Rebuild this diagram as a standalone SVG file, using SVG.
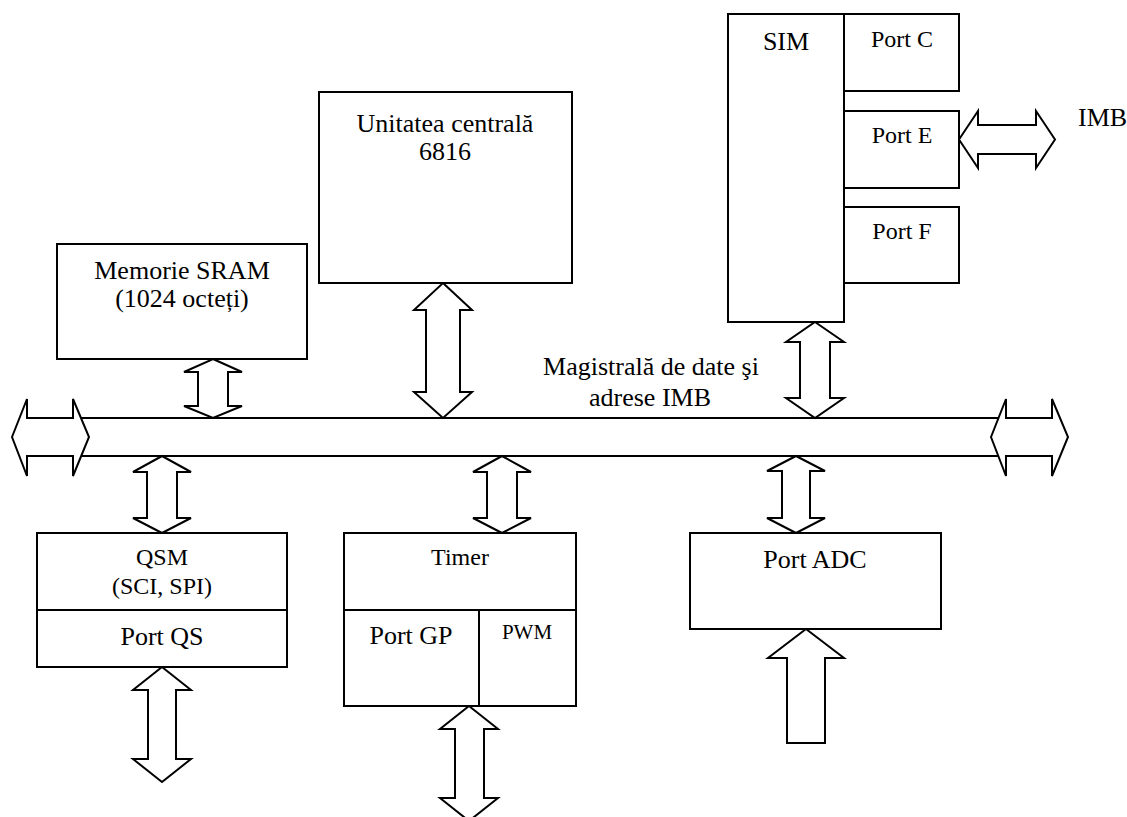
<svg xmlns="http://www.w3.org/2000/svg" width="1127" height="817" viewBox="0 0 1127 817">
<style>
.box{fill:#fff;stroke:#000;stroke-width:2}
.ln{fill:none;stroke:#000;stroke-width:2}
.ar{fill:#fff;stroke:#000;stroke-width:2;stroke-linejoin:miter}
text{fill:#000;text-anchor:middle}
.f26{font-size:26px}
.f24{font-size:24px}
.f21{font-size:21px}
</style>
<rect width="1127" height="817" fill="#fff"/>
<g id="connectors">
<line class="ln" x1="81" y1="418" x2="999" y2="418"/>
<line class="ln" x1="81" y1="456" x2="999" y2="456"/>
<polygon class="ar" points="12,437 27,399 27,418 73,418 73,399 89,437 73,476 73,456 27,456 27,476"/>
<polygon class="ar" points="991,437 1006,399 1006,418 1052,418 1052,399 1068,437 1052,476 1052,456 1006,456 1006,476"/>
<polygon class="ar" points="959,139.5 978,111 978,125 1036,125 1036,111 1055,139.5 1036,168 1036,154 978,154 978,168"/>
<polygon class="ar" points="213,359 242,372 228,372 228,406 242,406 213,418 184,406 198,406 198,372 184,372"/>
<polygon class="ar" points="443,283 472,310 460,310 460,392 472,392 443,418 414,392 426,392 426,310 414,310"/>
<polygon class="ar" points="815,322 844,342 830,342 830,398 844,398 815,418 786,398 800,398 800,342 786,342"/>
<polygon class="ar" points="162,456 191,472 177,472 177,518 191,518 162,533 133,518 147,518 147,472 133,472"/>
<polygon class="ar" points="502,456 531,472 517,472 517,518 531,518 502,533 473,518 487,518 487,472 473,472"/>
<polygon class="ar" points="796,456 825,471 810,471 810,518 825,518 796,533 767,518 782,518 782,471 767,471"/>
<polygon class="ar" points="162,667 191,690 176,690 176,759 191,759 162,782 133,759 148,759 148,690 133,690"/>
<polygon class="ar" points="469,706 498,729 484,729 484,798 498,798 469,821 440,798 455,798 455,729 440,729"/>
<polygon class="ar" points="806,629 844,658 825,658 825,743 787,743 787,658 768,658"/>
</g>
<g font-family="Liberation Serif, DejaVu Serif, serif">
<g id="sram">
<rect class="box" x="57" y="244" width="250" height="115"/>
<text class="f26" x="182" y="279">Memorie SRAM</text>
<text class="f26" x="182" y="307">(1024 octeți)</text>
</g>
<g id="cpu">
<rect class="box" x="319" y="92" width="253" height="191"/>
<text class="f26" x="445" y="132">Unitatea centrală</text>
<text class="f26" x="445" y="160">6816</text>
</g>
<g id="sim">
<rect class="box" x="728" y="14" width="116" height="308"/>
<text class="f26" x="786" y="50">SIM</text>
</g>
<g id="portc">
<rect class="box" x="844" y="14" width="115" height="77"/>
<text class="f24" x="902" y="47">Port C</text>
</g>
<g id="porte">
<rect class="box" x="844" y="111" width="115" height="77"/>
<text class="f24" x="902" y="143">Port E</text>
</g>
<g id="portf">
<rect class="box" x="844" y="207" width="115" height="76"/>
<text class="f24" x="902" y="239">Port F</text>
</g>
<g id="imb-label">
<text class="f26" x="1078" y="126" style="text-anchor:start">IMB</text>
</g>
<g id="bus-label">
<text class="f26" x="651" y="375">Magistrală de date şi</text>
<text class="f26" x="650" y="406">adrese IMB</text>
</g>
<g id="qsm">
<rect class="box" x="37" y="533" width="250" height="77"/>
<text class="f24" x="162" y="565">QSM</text>
<text class="f24" x="162" y="594">(SCI, SPI)</text>
</g>
<g id="portqs">
<rect class="box" x="37" y="610" width="250" height="57"/>
<text class="f26" x="162" y="645">Port QS</text>
</g>
<g id="timer">
<rect class="box" x="344" y="533" width="232" height="77"/>
<text class="f24" x="460" y="565">Timer</text>
</g>
<g id="portgp">
<rect class="box" x="344" y="610" width="135" height="96"/>
<text class="f26" x="411" y="644">Port GP</text>
</g>
<g id="pwm">
<rect class="box" x="479" y="610" width="97" height="96"/>
<text class="f21" x="527" y="639">PWM</text>
</g>
<g id="portadc">
<rect class="box" x="690" y="533" width="251" height="96"/>
<text class="f26" x="815" y="568">Port ADC</text>
</g>
</g>
</svg>
